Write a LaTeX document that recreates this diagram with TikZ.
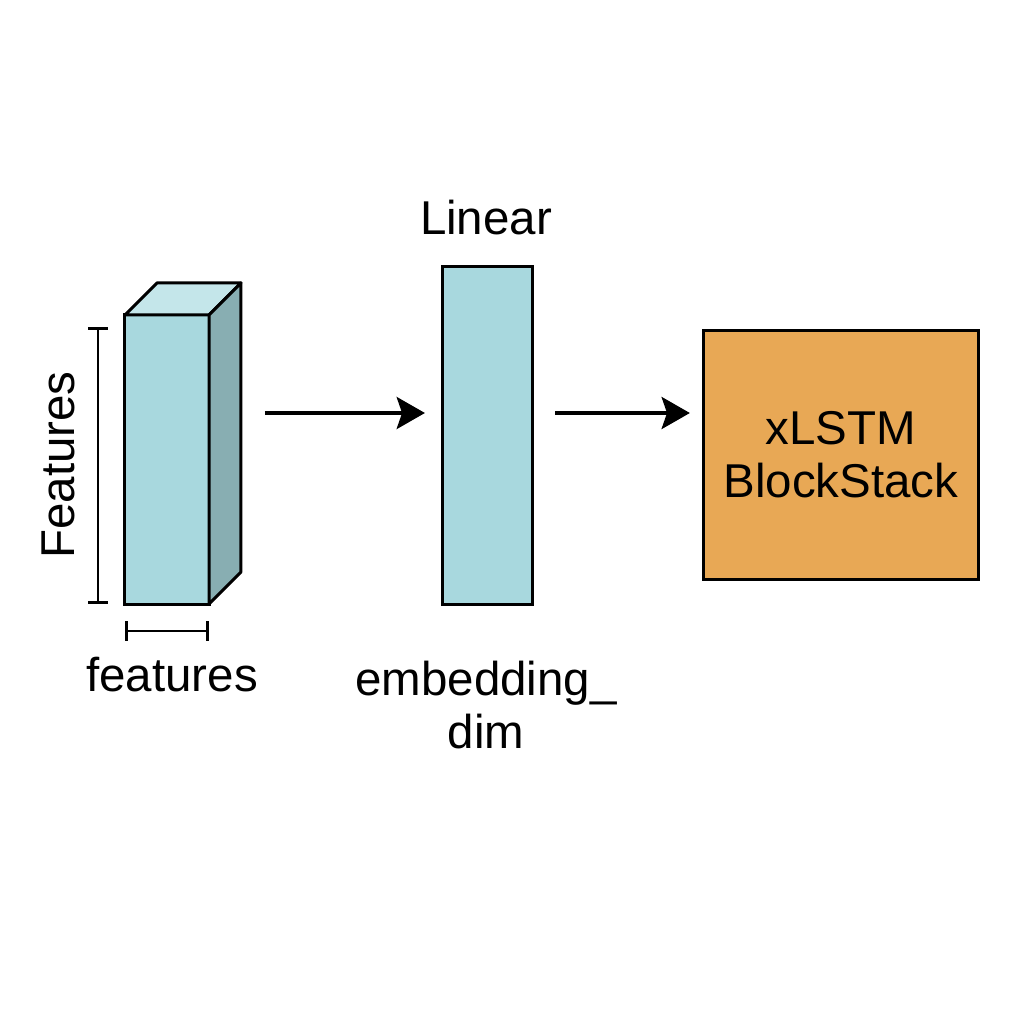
\documentclass[tikz,border=0pt]{standalone}
\usepackage{fontspec}
\setmainfont{Liberation Sans}
\usepackage{tikz}
\usetikzlibrary{arrows.meta}
\definecolor{cyan300}{HTML}{A8D8DE}
\definecolor{cyan200}{HTML}{C4E6EA}
\definecolor{cyan500}{HTML}{88AEB2}
\definecolor{orange400}{HTML}{E8A855}
\tikzstyle{layer}=[draw=black, fill=cyan300, inner sep=0, outer sep=0, line width=0.85pt]
\tikzstyle{face}=[draw=black, line width=0.85pt, line join=round]
\tikzstyle{flow}=[-{Stealth[length=8pt,width=9pt,inset=1.5pt]}, line width=1.4pt]
\tikzstyle{dimbar}=[{Bar[width=5.5pt]}-{Bar[width=5.5pt]}, line width=0.8pt]
\tikzstyle{lbl}=[font=\fontsize{13.5}{14.8}\selectfont, inner sep=0, align=center]

\begin{document}
\begin{tikzpicture}[x=0.01cm, y=-0.01cm]
			\useasboundingbox[fill=white] (0,0) rectangle (1024,1024);
			% input tensor
			\node[layer, minimum width=0.84cm, minimum height=2.89cm] (front) at (167,459.5) {};
			\path[face, fill=cyan200]
				(front.north west) -- ++(32,-32) -- ++(84,0) coordinate (backtop) -- (front.north east) -- cycle;
			\path[face, fill=cyan500]
				(front.north east) -- (backtop) -- ++(0,289) coordinate (backbottom) -- (front.south east) -- cycle;
			\coordinate (heighttop) at (98,327);
			\draw[dimbar] (heighttop) -- (heighttop |- front.south);
			\coordinate (widthbar) at (0,631);
			\draw[dimbar] (front.west |- widthbar) -- (front.east |- widthbar);
			\node[lbl, rotate=90, anchor=base] (height) at (74,465) {Features};
			\node[lbl, anchor=base] (width) at (172,691) {features};
			% linear layer
			\node[layer, minimum width=0.89cm, minimum height=3.37cm] (linear) at (487.5,435.5) {};
			\node[lbl, anchor=base] (linearlbl) at (486,234) {Linear};
			\node[lbl] (embed) at (486,705) {embedding\_\\dim};
			% block stack
			\node[layer, fill=orange400, minimum width=2.74cm, minimum height=2.48cm, lbl, font=\fontsize{13.5}{15}\selectfont] (block) at (841,455) {xLSTM\\BlockStack};
			\coordinate (flowline) at (0,413);
			\draw[flow, shorten <=0.24cm, shorten >=0.18cm] (backtop |- flowline) -- (linear.west |- flowline);
			\draw[flow, shorten <=0.23cm, shorten >=0.14cm] (linear.east |- flowline) -- (block.west |- flowline);
		\end{tikzpicture}
\end{document}
